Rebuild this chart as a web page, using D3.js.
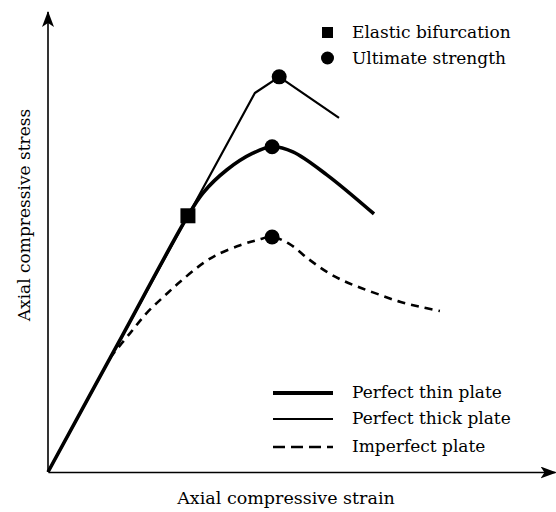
<!DOCTYPE html>
<html>
<head>
<meta charset="utf-8">
<script src="https://cdn.jsdelivr.net/npm/d3@7"></script>
<style>
  body { margin: 0; background: #fff; }
  svg { display: block; }
  text { font-family: "DejaVu Serif", "Liberation Serif", serif; font-size: 17px; fill: #000; }
</style>
</head>
<body>
<div id="chart"></div>
<script>
// data (strain, stress on an arbitrary 0-100 scale)
var thinStrain = [0, 13.8, 27.6, 30.6, 35.3, 40.4, 44.2, 48.3, 55.0, 64.3];
var thinStress = [0, 27.9, 55.7, 60.7, 65.7, 69.3, 70.7, 69.6, 64.6, 56.1];

var thickStrain = [0, 27.6, 40.8, 45.6, 57.4];
var thickStress = [0, 55.7, 82.4, 85.9, 77.0];

//the imperfect plate leaves the elastic line at about 12 % strain
var imperfStrain = [12.2, 16.2, 19.5, 22.7, 26.0, 30.6, 33.3, 37.9, 41.2, 44.2, 47.6, 51.5, 55.0, 58.2, 61.5, 65.5, 69.4, 73.4, 77.3];
var imperfStress = [24.8, 30.2, 34.6, 38.0, 41.3, 45.4, 47.2, 49.3, 50.4, 51.1, 49.6, 46.2, 43.5, 41.6, 40.1, 38.5, 37.0, 35.9, 35.0];

// markers
var bifurcation = [[27.6, 55.7]];
var ultimate = [[45.6, 85.9], [44.2, 70.7], [44.2, 51.1]];

var markerLabels = ["Elastic bifurcation", "Ultimate strength"];
var lineLabels = ["Perfect thin plate", "Perfect thick plate", "Imperfect plate"];
var xLabel = "Axial compressive strain";
var yLabel = "Axial compressive stress";

var width = 556, height = 512;
var svg = d3.select("#chart").append("svg").attr("width", width).attr("height", height);

//arrow heads for both axes
var defs = svg.append("defs");
defs.append("marker")
  .attr("id", "arrow")
  .attr("viewBox", "0 0 16 12")
  .attr("refX", 15).attr("refY", 6)
  .attr("markerUnits", "userSpaceOnUse")
  .attr("markerWidth", 16).attr("markerHeight", 12)
  .attr("orient", "auto")
  .append("path")
  .attr("d", "M0,0 L16,6 L0,12 L4,6 Z")
  .attr("fill", "#000");

var x = d3.scaleLinear().domain([0, 100]).range([48, 555]);
var y = d3.scaleLinear().domain([0, 100]).range([472, 12]);

//axes without ticks, only the domain line with an arrow
var xAxis = svg.append("g").attr("transform", "translate(0," + y(0) + ")")
  .call(d3.axisBottom(x).tickValues([]).tickSizeOuter(0));
var yAxis = svg.append("g").attr("transform", "translate(" + x(0) + ",0)")
  .call(d3.axisLeft(y).tickValues([]).tickSizeOuter(0));
xAxis.select(".domain").attr("stroke-width", 1.6).attr("marker-end", "url(#arrow)");
yAxis.select(".domain")
  .attr("d", "M0," + y(0) + "V" + y(100))
  .attr("stroke-width", 1.6).attr("marker-end", "url(#arrow)");

function toPoints(xs, ys) {
  return xs.map(function (d, i) { return [d, ys[i]]; });
}

var smooth = d3.line().x(function (d) { return x(d[0]); }).y(function (d) { return y(d[1]); }).curve(d3.curveCatmullRom.alpha(0.5));
var straight = d3.line().x(function (d) { return x(d[0]); }).y(function (d) { return y(d[1]); });

svg.append("path").datum(toPoints(imperfStrain, imperfStress))
  .attr("d", smooth).attr("fill", "none").attr("stroke", "#000")
  .attr("stroke-width", 2.6).attr("stroke-dasharray", "8,6");

svg.append("path").datum(toPoints(thickStrain, thickStress))
  .attr("d", straight).attr("fill", "none").attr("stroke", "#000")
  .attr("stroke-width", 2.2).attr("stroke-linejoin", "round");

svg.append("path").datum(toPoints(thinStrain, thinStress))
  .attr("d", smooth).attr("fill", "none").attr("stroke", "#000")
  .attr("stroke-width", 3.6).attr("stroke-linejoin", "round");

//marker symbols
svg.selectAll(".bif").data(bifurcation).enter().append("rect")
  .attr("x", function (d) { return x(d[0]) - 7.5; })
  .attr("y", function (d) { return y(d[1]) - 7.5; })
  .attr("width", 15).attr("height", 15).attr("fill", "#000");

svg.selectAll(".ult").data(ultimate).enter().append("circle")
  .attr("cx", function (d) { return x(d[0]); })
  .attr("cy", function (d) { return y(d[1]); })
  .attr("r", 7.5).attr("fill", "#000");

//top legend (markers)
var topLegend = svg.append("g");
topLegend.append("rect").attr("x", 322).attr("y", 27).attr("width", 11).attr("height", 11).attr("fill", "#000");
topLegend.append("circle").attr("cx", 327.5).attr("cy", 58).attr("r", 6.5).attr("fill", "#000");
topLegend.selectAll("text").data(markerLabels).enter().append("text")
  .attr("x", 352).attr("y", function (d, i) { return 38 + i * 26; })
  .text(function (d) { return d; });

//bottom legend (lines)
var lineStyles = [
  { w: 3.8, dash: null },
  { w: 2.2, dash: null },
  { w: 2.6, dash: "12,6" }
];
var botLegend = svg.append("g");
var rows = [393, 419, 447];
lineLabels.forEach(function (lab, i) {
  var l = botLegend.append("line")
    .attr("x1", 273).attr("x2", 333).attr("y1", rows[i]).attr("y2", rows[i])
    .attr("stroke", "#000").attr("stroke-width", lineStyles[i].w);
  if (lineStyles[i].dash) l.attr("stroke-dasharray", lineStyles[i].dash);
  botLegend.append("text").attr("x", 352).attr("y", rows[i] + 5).text(lab);
});

//axis titles
svg.append("text").attr("x", 286).attr("y", 504).attr("text-anchor", "middle")
  .style("font-size", "17.5px").text(xLabel);
svg.append("text")
  .attr("transform", "translate(30,215) rotate(-90)")
  .attr("text-anchor", "middle").text(yLabel);
</script>
</body>
</html>
